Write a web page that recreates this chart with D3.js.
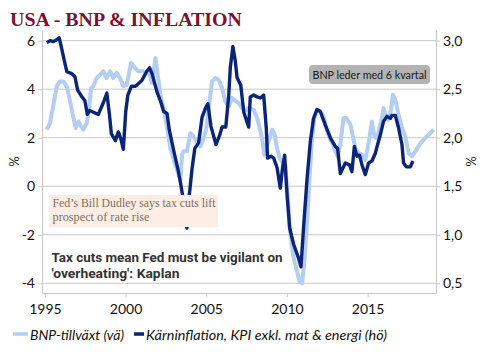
<!DOCTYPE html>
<html>
<head>
<meta charset="utf-8">
<script src="https://cdn.jsdelivr.net/npm/d3@7"></script>
<style>
  body { margin: 0; background: #fff; }
  text { font-family: Lato, "Open Sans", sans-serif; }
</style>
</head>
<body>
<div id="container"></div>
<script>
/* CONSTANTS AND GLOBALS */
const width = 488,
  height = 358,
  margin = { top: 30, bottom: 65, left: 42, right: 52 };

/* DATA */
// BNP-tillväxt (vänster axel), framflyttad 6 kvartal
const gdpYears = [1995.11, 1995.32, 1995.53, 1995.73, 1995.94, 1996.15, 1996.35, 1996.56, 1996.77, 1996.91,
  1997.08, 1997.24, 1997.39, 1997.59, 1997.74, 1997.86, 1998.00, 1998.21, 1998.42, 1998.62,
  1998.83, 1999.04, 1999.24, 1999.45, 1999.66, 1999.86, 2000.07, 2000.34, 2000.59, 2000.79,
  2001.10, 2001.31, 2001.43, 2001.64, 2001.85, 2001.99, 2002.16, 2002.36, 2002.57, 2002.78,
  2002.98, 2003.19, 2003.40, 2003.50, 2003.60, 2003.81, 2004.01, 2004.22, 2004.39, 2004.63,
  2004.84, 2005.01, 2005.21, 2005.36, 2005.56, 2005.77, 2005.98, 2006.18, 2006.39, 2006.60,
  2006.80, 2007.01, 2007.22, 2007.42, 2007.63, 2007.94, 2008.15, 2008.31, 2008.46, 2008.60,
  2008.77, 2008.93, 2009.08, 2009.22, 2009.39, 2009.55, 2009.70, 2009.90, 2010.04, 2010.21,
  2010.38, 2010.58, 2010.79, 2010.94, 2011.08, 2011.25, 2011.41, 2011.56, 2011.70, 2011.87,
  2012.07, 2012.27, 2012.44, 2012.65, 2012.86, 2013.00, 2013.14, 2013.31, 2013.51, 2013.68,
  2013.93, 2014.24, 2014.44, 2014.65, 2014.86, 2015.06, 2015.27, 2015.42, 2015.58, 2015.79,
  2015.99, 2016.16, 2016.30, 2016.45, 2016.57, 2016.72, 2016.92, 2017.13, 2017.34, 2017.54,
  2017.75, 2017.96, 2018.16, 2018.37, 2018.68, 2018.99, 2019.09];
const gdpValues = [2.33, 2.60, 3.36, 4.12, 4.32, 4.32, 4.12, 3.50, 2.81, 2.40,
  2.67, 2.47, 2.33, 2.60, 3.15, 4.05, 4.12, 4.46, 4.60, 4.74,
  4.46, 4.74, 4.46, 4.67, 4.46, 4.12, 4.18, 5.08, 4.87, 4.74,
  4.74, 4.67, 4.74, 4.25, 5.29, 4.60, 3.77, 3.22, 2.40, 1.57,
  1.09, 0.68, 0.26, 1.30, 1.44, 1.44, 2.19, 2.05, 1.85, 1.64,
  1.98, 2.40, 3.50, 4.32, 4.46, 4.39, 4.05, 3.50, 3.29, 3.64,
  3.52, 3.43, 3.22, 3.11, 3.22, 3.15, 2.81, 2.40, 1.98, 1.30,
  1.71, 1.98, 2.33, 2.19, 1.57, 1.16, 1.02, 0.88, -0.36, -2.01,
  -2.83, -3.38, -3.93, -4.00, -3.10, -1.45, 0.47, 1.98, 2.81, 3.15,
  3.09, 2.88, 2.40, 1.98, 1.71, 1.44, 1.23, 1.71, 2.81, 2.81,
  2.56, 1.57, 1.37, 1.30, 1.09, 1.78, 2.67, 2.05, 1.98, 2.53,
  3.22, 2.88, 2.74, 3.15, 3.77, 3.56, 2.95, 2.40, 2.05, 1.37,
  1.23, 1.44, 1.64, 1.85, 2.05, 2.26, 2.33];

// Kärninflation, KPI exkl. mat & energi (höger axel)
const cpiYears = [1995.11, 1995.32, 1995.53, 1995.73, 1995.88, 1996.00, 1996.21, 1996.36, 1996.67, 1996.86,
  1997.03, 1997.26, 1997.48, 1997.63, 1997.76, 1997.91, 1998.31, 1998.62, 1998.84, 1999.00,
  1999.12, 1999.37, 1999.55, 1999.72, 1999.86, 2000.01, 2000.14, 2000.36, 2000.61, 2001.01,
  2001.33, 2001.49, 2001.64, 2001.95, 2002.16, 2002.36, 2002.57, 2002.71, 2003.02, 2003.24,
  2003.43, 2003.58, 2003.80, 2003.95, 2004.12, 2004.29, 2004.53, 2004.74, 2004.94, 2005.10,
  2005.29, 2005.60, 2005.84, 2005.98, 2006.21, 2006.39, 2006.49, 2006.65, 2006.80, 2006.91,
  2007.14, 2007.33, 2007.63, 2007.73, 2007.94, 2008.15, 2008.35, 2008.56, 2008.72, 2008.80,
  2009.01, 2009.18, 2009.39, 2009.59, 2009.73, 2009.86, 2010.01, 2010.17, 2010.42, 2010.72,
  2010.87, 2011.03, 2011.25, 2011.45, 2011.65, 2011.86, 2012.07, 2012.38, 2012.69, 2013.00,
  2013.14, 2013.31, 2013.62, 2013.88, 2014.03, 2014.18, 2014.34, 2014.50, 2014.65, 2014.86,
  2015.06, 2015.27, 2015.48, 2015.62, 2015.79, 2015.99, 2016.20, 2016.41, 2016.51, 2016.72,
  2016.92, 2017.13, 2017.23, 2017.40, 2017.65, 2017.81];
const cpiValues = [2.98, 3.00, 2.99, 3.01, 3.03, 2.95, 2.79, 2.68, 2.66, 2.63,
  2.49, 2.43, 2.38, 2.24, 2.28, 2.27, 2.24, 2.36, 2.46, 2.24,
  2.04, 1.97, 2.06, 1.98, 1.88, 2.27, 2.44, 2.53, 2.53, 2.59,
  2.69, 2.72, 2.66, 2.47, 2.38, 2.27, 2.25, 2.08, 1.84, 1.68,
  1.51, 1.36, 1.07, 1.41, 1.68, 1.89, 1.95, 2.21, 2.30, 2.35,
  2.12, 1.93, 2.03, 2.11, 2.11, 2.43, 2.72, 2.94, 2.79, 2.62,
  2.54, 2.26, 2.11, 2.42, 2.44, 2.42, 2.41, 2.44, 2.10, 1.79,
  1.81, 1.79, 1.69, 1.48, 1.69, 1.82, 1.41, 1.07, 0.90, 0.76,
  0.67, 1.07, 1.58, 1.96, 2.20, 2.29, 2.27, 2.13, 2.00, 1.91,
  1.89, 1.63, 1.74, 1.72, 1.65, 1.91, 1.81, 1.82, 1.72, 1.62,
  1.74, 1.76, 1.84, 1.93, 2.03, 2.17, 2.22, 2.20, 2.23, 2.23,
  2.10, 1.93, 1.74, 1.70, 1.70, 1.76];

const xTicks = [1995, 2000, 2005, 2010, 2015];
const leftTicks = [-4, -2, 0, 2, 4, 6];
const rightTicks = [0.5, 1.0, 1.5, 2.0, 2.5, 3.0];

const titleText = "USA - BNP & INFLATION";
const legendLabels = ["BNP-tillväxt (vä)", "Kärninflation, KPI exkl. mat & energi (hö)"];
const noteText = "BNP leder med 6 kvartal";
const dudleyLines = ["Fed’s Bill Dudley says tax cuts lift", "prospect of rate rise"];
const kaplanLines = ["Tax cuts mean Fed must be vigilant on", "'overheating': Kaplan"];

const lightBlue = "#b3cdf3",
  darkBlue = "#0b2477",
  gridColor = "#c8c8c8";

/* SCALES */
const xScale = d3.scaleLinear()
  .domain([1994.82, 2019.24])
  .range([margin.left, width - margin.right]);

const yLeft = d3.scaleLinear()
  .domain([-4.4, 6.44])
  .range([height - margin.bottom, margin.top]);

// höger axel: 0,5..3,0 ligger på samma rutnät som -4..6
const yRight = d3.scaleLinear()
  .domain([1.5 + -4.4 / 4, 1.5 + 6.44 / 4])
  .range([height - margin.bottom, margin.top]);

/* SVG */
const svg = d3.select("#container")
  .append("svg")
  .attr("width", width)
  .attr("height", height)
  .style("background-color", "#fff");

// title
svg.append("text")
  .attr("x", 10)
  .attr("y", 26)
  .attr("textLength", 232)
  .attr("lengthAdjust", "spacingAndGlyphs")
  .style("font-family", "'Liberation Serif', serif")
  .style("font-weight", "bold")
  .style("font-size", "19px")
  .style("fill", "#7a1234")
  .text(titleText);

// gridlines
svg.append("g")
  .selectAll("line")
  .data(leftTicks)
  .join("line")
  .attr("x1", margin.left)
  .attr("x2", width - margin.right)
  .attr("y1", d => yLeft(d))
  .attr("y2", d => yLeft(d))
  .style("stroke", gridColor)
  .style("stroke-width", 1);

/* AXES */
const leftAxis = d3.axisLeft(yLeft)
  .tickValues(leftTicks)
  .tickFormat(d => String(d))
  .tickSize(4).tickSizeOuter(0).tickPadding(3);

const rightAxis = d3.axisRight(yRight)
  .tickValues(rightTicks)
  .tickFormat(d => d.toFixed(1).replace(".", ","))
  .tickSize(4).tickSizeOuter(0).tickPadding(3);

const bottomAxis = d3.axisBottom(xScale)
  .tickValues(xTicks)
  .tickFormat(d => String(d))
  .tickSize(4).tickSizeOuter(0).tickPadding(7);

function styleAxis(g) {
  g.select(".domain").style("stroke", gridColor);
  g.selectAll(".tick line").style("stroke", gridColor);
  g.selectAll(".tick text")
    .style("font-family", "Lato, sans-serif")
    .style("font-size", "14px")
    .style("fill", "#111");
}

svg.append("g")
  .attr("transform", `translate(${margin.left},0)`)
  .call(leftAxis)
  .call(styleAxis);

svg.append("g")
  .attr("transform", `translate(${width - margin.right},0)`)
  .call(rightAxis)
  .call(styleAxis);

svg.append("g")
  .attr("transform", `translate(0,${height - margin.bottom})`)
  .call(bottomAxis)
  .call(styleAxis);

// axis titles
const midY = (margin.top + height - margin.bottom) / 2;
svg.append("text")
  .attr("transform", `translate(19,${midY}) rotate(-90)`)
  .attr("text-anchor", "middle")
  .style("font-size", "13px")
  .style("fill", "#222")
  .text("%");
svg.append("text")
  .attr("transform", `translate(466,${midY}) rotate(90)`)
  .attr("text-anchor", "middle")
  .style("font-size", "13px")
  .style("fill", "#222")
  .text("%");

/* LINES */
const gdpData = gdpYears.map((d, i) => ({ t: d, v: gdpValues[i] }));
const cpiData = cpiYears.map((d, i) => ({ t: d, v: cpiValues[i] }));

const gdpLine = d3.line().x(d => xScale(d.t)).y(d => yLeft(d.v));
const cpiLine = d3.line().x(d => xScale(d.t)).y(d => yRight(d.v));

svg.append("path")
  .datum(gdpData)
  .attr("d", gdpLine)
  .style("fill", "none")
  .style("stroke", lightBlue)
  .style("stroke-width", 4)
  .style("stroke-linejoin", "round");

svg.append("path")
  .datum(cpiData)
  .attr("d", cpiLine)
  .style("fill", "none")
  .style("stroke", darkBlue)
  .style("stroke-width", 3.4)
  .style("stroke-linejoin", "round");

/* ANNOTATIONS */
svg.append("rect")
  .attr("x", 309).attr("y", 65)
  .attr("width", 121).attr("height", 19)
  .attr("rx", 4)
  .style("fill", "#b3b3b3");
svg.append("text")
  .attr("x", 369.5).attr("y", 78.5)
  .attr("text-anchor", "middle")
  .attr("textLength", 114)
  .attr("lengthAdjust", "spacingAndGlyphs")
  .style("font-size", "11px")
  .style("fill", "#1a1a1a")
  .text(noteText);

svg.append("rect")
  .attr("x", 49).attr("y", 195)
  .attr("width", 169).attr("height", 32)
  .style("fill", "#fdede3");
svg.append("g")
  .selectAll("text")
  .data(dudleyLines)
  .join("text")
  .attr("x", 52.5)
  .attr("y", (d, i) => 207 + i * 14)
  .attr("textLength", (d, i) => i === 0 ? 163 : 97)
  .attr("lengthAdjust", "spacingAndGlyphs")
  .style("font-family", "'Liberation Serif', serif")
  .style("font-size", "12.5px")
  .style("fill", "#7e6f68")
  .text(d => d);

svg.append("g")
  .selectAll("text")
  .data(kaplanLines)
  .join("text")
  .attr("x", 51.5)
  .attr("y", (d, i) => 262 + i * 16)
  .attr("textLength", (d, i) => i === 0 ? 231 : 128)
  .attr("lengthAdjust", "spacingAndGlyphs")
  .style("font-family", "Roboto, sans-serif")
  .style("font-weight", "bold")
  .style("font-size", "13.5px")
  .style("fill", "#333")
  .text(d => d);

/* LEGEND */
const legendY = 334;
const legendItems = [
  { label: legendLabels[0], color: lightBlue, x1: 13, x2: 28, tx: 30, len: 94 },
  { label: legendLabels[1], color: darkBlue, x1: 134, x2: 144, tx: 146, len: 241 }
];
const legend = svg.append("g");
legend.selectAll("line")
  .data(legendItems)
  .join("line")
  .attr("x1", d => d.x1).attr("x2", d => d.x2)
  .attr("y1", legendY).attr("y2", legendY)
  .style("stroke", d => d.color)
  .style("stroke-width", 3.5);
legend.selectAll("text")
  .data(legendItems)
  .join("text")
  .attr("x", d => d.tx)
  .attr("y", legendY + 5.5)
  .attr("textLength", d => d.len)
  .attr("lengthAdjust", "spacingAndGlyphs")
  .style("font-style", "italic")
  .style("font-size", "14px")
  .style("fill", "#111")
  .text(d => d.label);
</script>
</body>
</html>
